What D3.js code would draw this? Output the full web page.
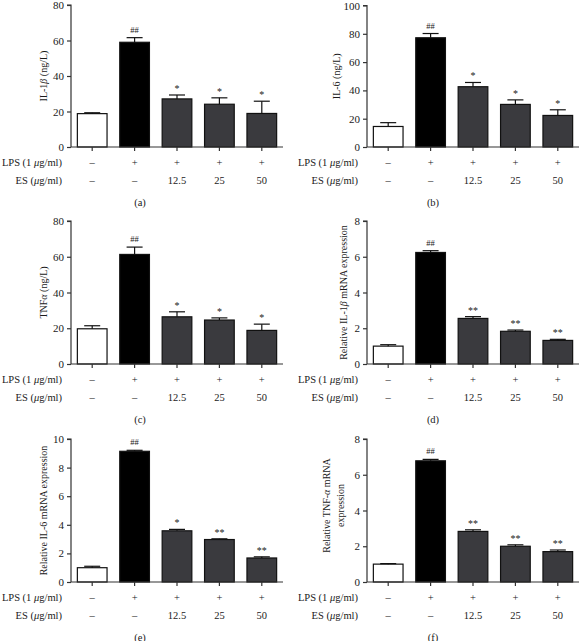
<!DOCTYPE html>
<html><head><meta charset="utf-8">
<script src="https://cdn.jsdelivr.net/npm/d3@7"></script>
<style>
body{margin:0;background:#fff}
svg{display:block}
text{font-family:"Liberation Serif","Times New Roman",serif;fill:#1a1a1a}
</style>
</head><body>
<svg id="chart" width="579" height="641"></svg>
<script>
// ---- data ----
const groups = ["Control", "LPS", "LPS+ES12.5", "LPS+ES25", "LPS+ES50"];
const lpsLabels = ["–", "+", "+", "+", "+"];
const esLabels = ["–", "–", "12.5", "25", "50"];

const il1bMean = [18.8, 59.0, 27.1, 24.1, 18.9];
const il1bErr  = [0.5, 2.6, 2.2, 3.6, 6.9];
const il6Mean  = [14.5, 77.2, 42.6, 30.1, 22.3];
const il6Err   = [2.7, 3.0, 3.0, 3.2, 4.0];
const tnfMean  = [19.7, 61.3, 26.4, 24.6, 18.8];
const tnfErr   = [1.7, 4.1, 2.8, 1.2, 3.5];
const il1bMrnaMean = [1.00, 6.24, 2.55, 1.83, 1.32];
const il1bMrnaErr  = [0.08, 0.10, 0.10, 0.07, 0.06];
const il6MrnaMean  = [1.00, 9.14, 3.58, 2.97, 1.68];
const il6MrnaErr   = [0.10, 0.07, 0.10, 0.05, 0.08];
const tnfMrnaMean  = [1.00, 6.78, 2.83, 2.00, 1.70];
const tnfMrnaErr   = [0.03, 0.08, 0.09, 0.08, 0.09];

const sigA = ["", "##", "*", "*", "*"];
const sigB = ["", "##", "*", "*", "*"];
const sigC = ["", "##", "*", "*", "*"];
const sigD = ["", "##", "**", "**", "**"];
const sigE = ["", "##", "*", "**", "**"];
const sigF = ["", "##", "**", "**", "**"];

const ticksA = [0, 20, 40, 60, 80];
const ticksB = [0, 20, 40, 60, 80, 100];
const ticksC = [0, 20, 40, 60, 80];
const ticksD = [0, 2, 4, 6, 8];
const ticksE = [0, 2, 4, 6, 8, 10];
const ticksF = [0, 2, 4, 6, 8];

const titleA = ["IL-1β (ng/L)"];
const titleB = ["IL-6 (ng/L)"];
const titleC = ["TNFα (ng/L)"];
const titleD = ["Relative IL-1β mRNA expression"];
const titleE = ["Relative IL-6 mRNA expression"];
const titleF = ["Relative TNF-α mRNA", "expression"];
const captions = ["(a)", "(b)", "(c)", "(d)", "(e)", "(f)"];

// ---- layout ----
const panels = [
  {mean: il1bMean, err: il1bErr, sig: sigA, ticks: ticksA, title: titleA, cap: captions[0], ax: 71,  top: 5,   bot: 147, lx: 43,  cx: 140},
  {mean: il6Mean,  err: il6Err,  sig: sigB, ticks: ticksB, title: titleB, cap: captions[1], ax: 367, top: 5.5, bot: 147, lx: 336, cx: 433},
  {mean: tnfMean,  err: tnfErr,  sig: sigC, ticks: ticksC, title: titleC, cap: captions[2], ax: 71,  top: 221, bot: 364, lx: 43,  cx: 140},
  {mean: il1bMrnaMean, err: il1bMrnaErr, sig: sigD, ticks: ticksD, title: titleD, cap: captions[3], ax: 367, top: 221, bot: 364, lx: 343, cx: 433},
  {mean: il6MrnaMean,  err: il6MrnaErr,  sig: sigE, ticks: ticksE, title: titleE, cap: captions[4], ax: 71,  top: 439, bot: 582, lx: 43,  cx: 140},
  {mean: tnfMrnaMean,  err: tnfMrnaErr,  sig: sigF, ticks: ticksF, title: titleF, cap: captions[5], ax: 367, top: 439, bot: 582, lx: 333, cx: 433}
];
const fills = ["#ffffff", "#000000", "#3a3a3e", "#3a3a3e", "#3a3a3e"];
const axisColor = "#333";

const svg = d3.select("#chart");

function richText(sel, str) {
  const parts = str.split(/([αβμ])/);
  parts.forEach(p => {
    if (!p) return;
    const t = sel.append("tspan").text(p);
    if (/[αβμ]/.test(p)) t.attr("font-style", "italic");
  });
}

panels.forEach(p => {
  const g = svg.append("g");
  const x = d3.scaleBand().domain(groups).range([p.ax, p.ax + 212]).paddingInner(0.3).paddingOuter(0.15);
  const ymax = p.ticks[p.ticks.length - 1];
  const y = d3.scaleLinear().domain([0, ymax]).range([p.bot, p.top]);

  g.selectAll("rect.bar").data(groups).join("rect")
    .attr("x", d => x(d)).attr("width", x.bandwidth())
    .attr("y", (d, i) => y(p.mean[i])).attr("height", (d, i) => p.bot - y(p.mean[i]))
    .attr("fill", (d, i) => fills[i]).attr("stroke", "#111").attr("stroke-width", 1.2);

  const capW = 16;
  groups.forEach((d, i) => {
    const cxp = x(d) + x.bandwidth() / 2;
    const y0 = y(p.mean[i]), y1 = y(p.mean[i] + p.err[i]);
    g.append("line").attr("x1", cxp).attr("x2", cxp).attr("y1", y0).attr("y2", y1)
      .attr("stroke", "#111").attr("stroke-width", 1.2);
    g.append("line").attr("x1", cxp - capW / 2).attr("x2", cxp + capW / 2).attr("y1", y1).attr("y2", y1)
      .attr("stroke", "#111").attr("stroke-width", 1.2);
    if (p.sig[i]) {
      const isHash = p.sig[i].startsWith("#");
      g.append("text").attr("x", cxp).attr("y", y1 - (isHash ? 5 : 3))
        .attr("text-anchor", "middle")
        .attr("font-size", isHash ? 8.5 : 10)
        .text(p.sig[i]);
    }
  });

  const yAxis = d3.axisLeft(y).tickValues(p.ticks).tickSize(4).tickPadding(3).tickFormat(d3.format("d"));
  const ya = g.append("g").attr("transform", `translate(${p.ax},0)`).call(yAxis);
  ya.select(".domain").attr("stroke", axisColor).attr("stroke-width", 1.2).attr("d", `M-4,${p.top}H0V${p.bot}`);
  ya.selectAll(".tick line").attr("stroke", axisColor).attr("stroke-width", 1.2);
  ya.selectAll(".tick text").attr("font-size", 11).attr("font-family", "Liberation Serif").attr("fill", "#1a1a1a");

  const xAxis = d3.axisBottom(x).tickSize(4).tickFormat("");
  const xa = g.append("g").attr("transform", `translate(0,${p.bot})`).call(xAxis);
  xa.select(".domain").attr("stroke", axisColor).attr("stroke-width", 1.2).attr("d", `M${p.ax},0H${p.ax + 212}`);
  xa.selectAll(".tick line").attr("stroke", axisColor).attr("stroke-width", 1.2);

  const rowLbl = g.append("g").attr("font-size", 10.5);
  const lpsT = rowLbl.append("text").attr("x", p.ax - 9).attr("y", p.bot + 15).attr("text-anchor", "end").attr("dominant-baseline", "central");
  richText(lpsT, "LPS (1 μg/ml)");
  const esT = rowLbl.append("text").attr("x", p.ax - 9).attr("y", p.bot + 33).attr("text-anchor", "end").attr("dominant-baseline", "central");
  richText(esT, "ES (μg/ml)");
  groups.forEach((d, i) => {
    const cxp = x(d) + x.bandwidth() / 2;
    rowLbl.append("text").attr("x", cxp).attr("y", p.bot + 15).attr("text-anchor", "middle").attr("dominant-baseline", "central").text(lpsLabels[i]);
    rowLbl.append("text").attr("x", cxp).attr("y", p.bot + 33).attr("text-anchor", "middle").attr("dominant-baseline", "central").text(esLabels[i]);
  });

  g.append("text").attr("x", p.cx).attr("y", p.bot + 55).attr("text-anchor", "middle").attr("dominant-baseline", "central")
    .attr("font-size", 10.5).text(p.cap);

  const ymid = (p.top + p.bot) / 2 - (p.title.length > 1 ? 5 : 0);
  const lineH = 14;
  p.title.forEach((line, li) => {
    const off = (li - (p.title.length - 1) / 2) * lineH;
    const t = g.append("text")
      .attr("transform", `translate(${p.lx + off},${ymid}) rotate(-90)`)
      .attr("text-anchor", "middle").attr("dominant-baseline", "central")
      .attr("font-size", 10);
    richText(t, line);
  });
});
</script>
</body></html>
